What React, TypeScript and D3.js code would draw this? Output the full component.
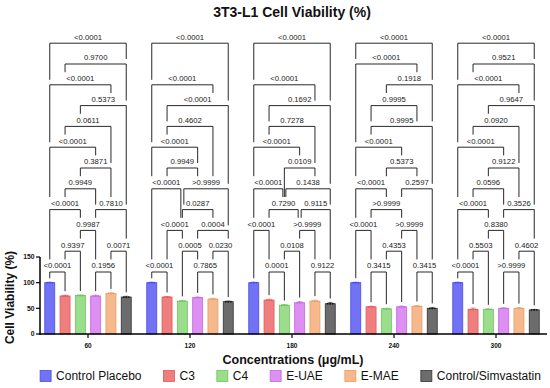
import React from "react";
import * as d3 from "d3";

const concentrations = ["60", "120", "180", "240", "300"];
const seriesNames = ["Control Placebo", "C3", "C4", "E-UAE", "E-MAE", "Control/Simvastatin"];

const controlPlacebo = [100, 100, 100, 100, 100];
const c3 = [74, 72, 66, 53, 48];
const c4 = [75, 64, 56, 49, 48];
const eUae = [74, 71, 61, 53, 50];
const eMae = [79, 68, 64, 54, 50];
const simvastatin = [72, 63, 59, 50, 47];

const sdPlacebo = [0.8, 0.8, 0.8, 0.8, 0.8];
const sdC3 = [1.5, 1.2, 1.8, 1.2, 2.5];
const sdC4 = [1.0, 1.5, 1.5, 1.2, 1.0];
const sdUae = [1.8, 1.2, 2.2, 1.5, 1.0];
const sdMae = [1.2, 1.5, 2.0, 1.5, 1.5];
const sdSim = [1.5, 1.2, 2.5, 1.8, 1.0];

const yTicks = [0, 50, 100, 150];

// [bar a, bar b, stacking row, p value]
const comp60 = [
  [0, 1, 0, "<0.0001"], [3, 4, 0, "0.1956"],
  [1, 2, 1, "0.9397"], [4, 5, 1, "0.0071"],
  [2, 3, 2, "0.9987"],
  [0, 2, 3, "<0.0001"], [3, 5, 3, "0.7810"],
  [1, 3, 4, "0.9949"],
  [2, 4, 5, "0.3871"],
  [0, 3, 6, "<0.0001"],
  [1, 4, 7, "0.0611"],
  [2, 5, 8, "0.5373"],
  [0, 4, 9, "<0.0001"],
  [1, 5, 10, "0.9700"],
  [0, 5, 11, "<0.0001"],
];
const comp120 = [
  [0, 1, 0, "<0.0001"], [3, 4, 0, "0.7865"],
  [2, 3, 1, "0.0005"], [4, 5, 1, "0.0230"],
  [1, 2, 2, "<0.0001"], [3, 5, 2, "0.0004"],
  [2, 4, 3, "0.0287"],
  [0, 2, 4, "<0.0001"], [2, 5, 4, ">0.9999"],
  [1, 3, 5, "0.9949"],
  [0, 3, 6, "<0.0001"],
  [1, 4, 7, "0.4602"],
  [1, 5, 8, "<0.0001"],
  [0, 4, 9, "<0.0001"],
  [0, 5, 11, "<0.0001"],
];
const comp180 = [
  [1, 2, 0, "0.0001"], [4, 5, 0, "0.9122"],
  [2, 3, 1, "0.0108"],
  [0, 1, 2, "<0.0001"], [3, 4, 2, ">0.9999"],
  [1, 3, 3, "0.7290"], [3, 5, 3, "0.9115"],
  [0, 2, 4, "<0.0001"], [2, 5, 4, "0.1438"],
  [2, 4, 5, "0.0109"],
  [0, 3, 6, "<0.0001"],
  [1, 4, 7, "0.7278"],
  [1, 5, 8, "0.1692"],
  [0, 4, 9, "<0.0001"],
  [0, 5, 11, "<0.0001"],
];
const comp240 = [
  [1, 2, 0, "0.3415"], [4, 5, 0, "0.3415"],
  [2, 3, 1, "0.4353"],
  [0, 1, 2, "<0.0001"], [3, 4, 2, ">0.9999"],
  [1, 3, 3, ">0.9999"],
  [0, 2, 4, "<0.0001"], [3, 5, 4, "0.2597"],
  [2, 4, 5, "0.5373"],
  [0, 3, 6, "<0.0001"],
  [1, 5, 7, "0.9995"],
  [1, 4, 8, "0.9995"],
  [2, 5, 9, "0.1918"],
  [0, 4, 10, "<0.0001"],
  [0, 5, 11, "<0.0001"],
];
const comp300 = [
  [0, 1, 0, "<0.0001"], [3, 4, 0, ">0.9999"],
  [1, 2, 1, "0.5503"], [4, 5, 1, "0.4602"],
  [2, 3, 2, "0.8380"],
  [0, 2, 3, "<0.0001"], [3, 5, 3, "0.3526"],
  [1, 3, 4, "0.0596"],
  [2, 4, 5, "0.9122"],
  [0, 3, 6, "<0.0001"],
  [1, 4, 7, "0.0920"],
  [2, 5, 8, "0.9647"],
  [0, 4, 9, "<0.0001"],
  [1, 5, 10, "0.9521"],
  [0, 5, 11, "<0.0001"],
];

const fills = ["#7272f5", "#ef7f7f", "#9ade8c", "#dd8ff2", "#f5b98d", "#6c6c6c"];
const strokes = ["#4b4be6", "#e05a5a", "#6ec25f", "#c569e0", "#e99c62", "#333333"];

const FONT = "'Liberation Sans', Arial, Helvetica, sans-serif";
const W = 550;
const H = 388;

const canvas = typeof document !== "undefined" ? document.createElement("canvas") : null;
function textWidth(s: string, size: number, weight = "normal") {
  const ctx = canvas && canvas.getContext("2d");
  if (!ctx) return s.length * size * 0.55;
  ctx.font = `${weight} ${size}px 'Liberation Sans', Arial`;
  return ctx.measureText(s).width;
}

export default function App() {
  const values = [controlPlacebo, c3, c4, eUae, eMae, simvastatin];
  const sds = [sdPlacebo, sdC3, sdC4, sdUae, sdMae, sdSim];
  const comps = [comp60, comp120, comp180, comp240, comp300];

  const x0 = d3.scaleBand().domain(concentrations).range([37, 547]).padding(0);
  const x1 = d3.scaleBand().domain(seriesNames).range([7.75, 94.25]).paddingInner(0.346).paddingOuter(0);
  const y = d3.scaleLinear().domain([0, 150]).range([334, 257]);
  const rowY = d3.scaleLinear().domain([0, 11]).range([272, 43.2]);

  const pFont = 7.7;
  const barCx = (g: number, s: number) => (x0(concentrations[g]) as number) + (x1(seriesNames[s]) as number) + x1.bandwidth() / 2;

  const bracketEls: React.ReactNode[] = [];
  comps.forEach((list, g) => {
    const items = list.map((c) => {
      const [a, b, row, label] = c as [number, number, number, string];
      let xa = barCx(g, a);
      let xb = barCx(g, b);
      // offset shared endpoints within the same row
      list.forEach((o) => {
        if (o === c || o[2] !== row) return;
        if (o[1] === a) xa += 1.5;
        if (o[0] === b) xb -= 1.5;
      });
      const ly = rowY(row);
      const tx = (xa + xb) / 2;
      const tw = textWidth(label, pFont);
      const base = ly - 3.6;
      return { a, b, row, label, xa, xb, ly, tx, base, tl: tx - tw / 2 - 1.5, tr: tx + tw / 2 + 1.5, tt: base - 6 };
    });
    // legs stop just above whatever lies beneath them
    const legEnd = (xp: number, bar: number, fromY: number) => {
      let end = y(values[bar][g] + sds[bar][g]) - 4;
      items.forEach((it) => {
        if (it.ly > fromY + 0.5 && xp >= it.xa - 0.8 && xp <= it.xb + 0.8) end = Math.min(end, it.ly - 5);
        if (it.tt > fromY + 0.5 && xp >= it.tl && xp <= it.tr) end = Math.min(end, it.tt - 3);
      });
      return Math.max(end, fromY + 4);
    };
    items.forEach((it, i) => {
      const ea = legEnd(it.xa, it.a, it.ly);
      const eb = legEnd(it.xb, it.b, it.ly);
      bracketEls.push(
        <g key={`b${g}-${i}`}>
          <path
            d={`M${it.xa},${ea}V${it.ly}H${it.xb}V${eb}`}
            fill="none"
            stroke="#111"
            strokeWidth={0.9}
          />
          <text x={it.tx} y={it.base} textAnchor="middle" fontSize={pFont} fill="#1a1a1a">
            {it.label}
          </text>
        </g>
      );
    });
  });

  // legend layout
  const legSize = 12;
  const legWidths = seriesNames.map((s) => 16 + textWidth(s, legSize));
  const legGap = 22;
  const legTotal = d3.sum(legWidths) + legGap * (seriesNames.length - 1);
  let lx = 290.5 - legTotal / 2;
  const legendPos = legWidths.map((w) => {
    const p = lx;
    lx += w + legGap;
    return p;
  });

  return (
    <svg width={W} height={H} style={{ position: "fixed", left: 0, top: 0, background: "#fff" }} fontFamily={FONT}>
      <text x={292} y={17} textAnchor="middle" fontSize={14} fontWeight="bold" fill="#111">
        3T3-L1 Cell Viability (%)
      </text>

      {bracketEls}

      {concentrations.map((c, g) => (
        <g key={c}>
          {seriesNames.map((s, si) => {
            const v = values[si][g];
            const sd = sds[si][g];
            const cx = barCx(g, si);
            const bw = x1.bandwidth();
            return (
              <g key={s}>
                <rect x={cx - bw / 2} y={y(v)} width={bw} height={y(0) - y(v)} fill={fills[si]} stroke={strokes[si]} strokeWidth={0.8} />
                <path d={`M${cx},${y(v - sd)}V${y(v + sd)}M${cx - 2},${y(v + sd)}H${cx + 2}`} stroke={strokes[si]} strokeWidth={0.7} fill="none" />
                {[-2.6, 0, 2.6].map((dx) => (
                  <circle key={dx} cx={cx + dx} cy={y(v)} r={0.9} fill={si === 5 ? "#111" : strokes[si]} />
                ))}
              </g>
            );
          })}
        </g>
      ))}

      {/* y axis */}
      <line x1={40} x2={40} y1={y(150)} y2={y(0) + 0.75} stroke="#000" strokeWidth={1.5} />
      {yTicks.map((t) => (
        <g key={t}>
          <line x1={36} x2={40} y1={y(t)} y2={y(t)} stroke="#000" strokeWidth={1.2} />
          <text x={34.5} y={y(t) + 2.3} textAnchor="end" fontSize={6.8} fontWeight="bold" fill="#111">
            {t}
          </text>
        </g>
      ))}
      <text transform={`translate(14,${y(75) + 2}) rotate(-90)`} textAnchor="middle" fontSize={12} fontWeight="bold" fill="#111">
        Cell Viability (%)
      </text>

      {/* x axis */}
      <line x1={39.25} x2={547} y1={y(0)} y2={y(0)} stroke="#000" strokeWidth={1.5} />
      {concentrations.map((c) => {
        const cx = (x0(c) as number) + x0.bandwidth() / 2;
        return (
          <g key={c}>
            <line x1={cx} x2={cx} y1={y(0)} y2={y(0) + 4} stroke="#000" strokeWidth={1.2} />
            <text x={cx} y={348} textAnchor="middle" fontSize={6.5} fontWeight="bold" fill="#111">
              {c}
            </text>
          </g>
        );
      })}
      <text x={293} y={364} textAnchor="middle" fontSize={12.5} fontWeight="bold" fill="#111">
        Concentrations (μg/mL)
      </text>

      {/* legend */}
      {seriesNames.map((s, si) => (
        <g key={s} transform={`translate(${legendPos[si]},376)`}>
          <rect x={0} y={-5.5} width={11} height={11} fill={fills[si]} stroke={strokes[si]} strokeWidth={0.8} />
          <text x={16} y={4.3} fontSize={legSize} fill="#111">
            {s}
          </text>
        </g>
      ))}
    </svg>
  );
}
